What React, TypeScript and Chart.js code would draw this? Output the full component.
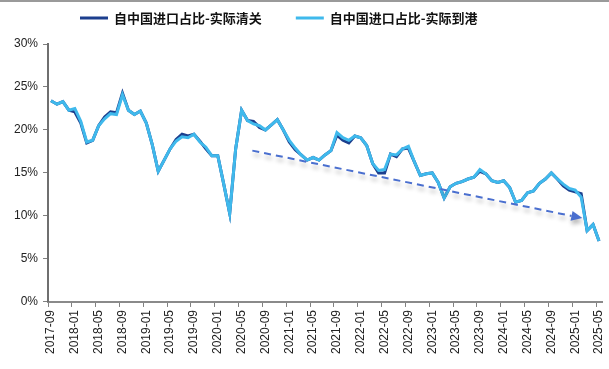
import { useEffect, useRef } from "react";
import { Chart, registerables } from "chart.js";

Chart.register(...registerables);

const categories = [
  "2017-09", "2017-10", "2017-11", "2017-12",
  "2018-01", "2018-02", "2018-03", "2018-04", "2018-05", "2018-06", "2018-07", "2018-08", "2018-09", "2018-10", "2018-11", "2018-12",
  "2019-01", "2019-02", "2019-03", "2019-04", "2019-05", "2019-06", "2019-07", "2019-08", "2019-09", "2019-10", "2019-11", "2019-12",
  "2020-01", "2020-02", "2020-03", "2020-04", "2020-05", "2020-06", "2020-07", "2020-08", "2020-09", "2020-10", "2020-11", "2020-12",
  "2021-01", "2021-02", "2021-03", "2021-04", "2021-05", "2021-06", "2021-07", "2021-08", "2021-09", "2021-10", "2021-11", "2021-12",
  "2022-01", "2022-02", "2022-03", "2022-04", "2022-05", "2022-06", "2022-07", "2022-08", "2022-09", "2022-10", "2022-11", "2022-12",
  "2023-01", "2023-02", "2023-03", "2023-04", "2023-05", "2023-06", "2023-07", "2023-08", "2023-09", "2023-10", "2023-11", "2023-12",
  "2024-01", "2024-02", "2024-03", "2024-04", "2024-05", "2024-06", "2024-07", "2024-08", "2024-09", "2024-10", "2024-11", "2024-12",
  "2025-01", "2025-02", "2025-03", "2025-04", "2025-05",
];

// 自中国进口占比-实际清关 (dark blue)
const clearanceShare = [
  23.4, 23.0, 23.3, 22.3, 22.1, 20.8, 18.5, 18.8, 20.5, 21.5, 22.1, 22.0, 24.3, 22.3, 21.8, 22.2,
  20.8, 18.3, 15.2, 16.5, 17.8, 18.9, 19.5, 19.3, 19.5, 18.7, 17.8, 17.0,
  17.0, 13.7, 10.3, 17.8, 22.3, 21.1, 21.0, 20.3, 20.0, 20.6, 21.2, 20.0,
  18.6, 17.7, 17.1, 16.5, 16.8, 16.5, 17.1, 17.6, 19.4, 18.8, 18.5, 19.3,
  19.1, 18.2, 16.1, 15.0, 15.0, 17.2, 16.9, 17.8, 17.9, 16.3, 14.7, 14.9,
  15.0, 13.9, 12.1, 13.4, 13.8, 14.0, 14.3, 14.5, 15.2, 14.9, 14.1, 13.9,
  14.1, 13.3, 11.6, 11.8, 12.7, 12.9, 13.8, 14.3, 15.0, 14.3, 13.5, 13.0,
  12.8, 12.6, 8.3, 9.0, 7.1,
];

// 自中国进口占比-实际到港 (light blue)
const arrivalShare = [
  23.4, 23.0, 23.3, 22.3, 22.5, 21.0, 18.6, 18.8, 20.5, 21.3, 21.9, 21.8, 24.1, 22.3, 21.8, 22.2,
  20.8, 18.3, 15.2, 16.5, 17.8, 18.7, 19.2, 19.1, 19.5, 18.6, 18.0, 17.0,
  17.0, 13.7, 10.3, 17.8, 22.3, 21.1, 20.7, 20.5, 20.0, 20.6, 21.2, 20.0,
  18.8, 17.9, 17.1, 16.5, 16.8, 16.5, 17.1, 17.6, 19.7, 19.1, 18.8, 19.3,
  19.1, 18.2, 16.1, 15.3, 15.4, 17.2, 17.1, 17.8, 18.1, 16.3, 14.7, 14.9,
  15.0, 13.9, 12.1, 13.4, 13.8, 14.0, 14.3, 14.5, 15.4, 14.9, 14.1, 13.9,
  14.1, 13.3, 11.6, 11.8, 12.7, 12.9, 13.8, 14.3, 15.0, 14.3, 13.7, 13.2,
  13.0, 12.2, 8.3, 9.0, 7.1,
];

const seriesLabels = ["自中国进口占比-实际清关", "自中国进口占比-实际到港"];
const seriesColors = ["#1c3f8e", "#3fb9ec"];

const yTickValues = [0, 5, 10, 15, 20, 25, 30];

// trend arrow, in data space: category index (fractional) and percent value
const trendStartIndex = 33.8;
const trendStartValue = 17.6;
const trendEndIndex = 89.2;
const trendEndValue = 9.75;

const topBandPlugin = {
  id: "topBand",
  beforeDraw(chart: any) {
    const ctx = chart.ctx;
    ctx.save();
    ctx.fillStyle = "#ffffff";
    ctx.fillRect(0, 0, chart.width, chart.height);
    ctx.fillStyle = "#9a9a9a";
    ctx.fillRect(0, 0, chart.width, 2);
    ctx.restore();
  },
};

const legendPlugin = {
  id: "customLegend",
  afterDraw(chart: any) {
    const ctx = chart.ctx;
    ctx.save();
    ctx.font = 'bold 13px "Noto Sans CJK SC"';
    ctx.textBaseline = "middle";
    ctx.textAlign = "left";
    const boxW = 28;
    const gap = 6;
    const itemGap = 34;
    let x = 80;
    const y = 18;
    chart.data.datasets.forEach((ds: any) => {
      ctx.fillStyle = ds.borderColor;
      ctx.fillRect(x, y - 1.5, boxW, 3);
      ctx.fillStyle = "#111111";
      ctx.fillText(ds.label, x + boxW + gap, y);
      x += boxW + gap + ctx.measureText(ds.label).width + itemGap;
    });
    ctx.restore();
  },
};

const arrowPlugin = {
  id: "trendArrow",
  afterDatasetsDraw(chart: any) {
    const xs = chart.scales.x;
    const ys = chart.scales.y;
    const x1 = xs.getPixelForValue(trendStartIndex);
    const y1 = ys.getPixelForValue(trendStartValue);
    const x2 = xs.getPixelForValue(trendEndIndex);
    const y2 = ys.getPixelForValue(trendEndValue);
    const ang = Math.atan2(y2 - y1, x2 - x1);
    const headLen = 11;
    const headHalf = 5;
    const bx = x2 - headLen * Math.cos(ang);
    const by = y2 - headLen * Math.sin(ang);
    const ctx = chart.ctx;
    ctx.save();
    ctx.shadowColor = "rgba(0,0,0,0.28)";
    ctx.shadowBlur = 4;
    ctx.shadowOffsetX = 1;
    ctx.shadowOffsetY = 4;
    ctx.strokeStyle = "#4a6fcf";
    ctx.lineWidth = 2;
    ctx.setLineDash([7, 5]);
    ctx.beginPath();
    ctx.moveTo(x1, y1);
    ctx.lineTo(bx, by);
    ctx.stroke();
    ctx.setLineDash([]);
    ctx.fillStyle = "#4a6fcf";
    ctx.beginPath();
    ctx.moveTo(x2, y2);
    ctx.lineTo(bx + headHalf * Math.sin(ang), by - headHalf * Math.cos(ang));
    ctx.lineTo(bx - headHalf * Math.sin(ang), by + headHalf * Math.cos(ang));
    ctx.closePath();
    ctx.fill();
    ctx.restore();
  },
};

export default function App() {
  const ref = useRef<HTMLCanvasElement | null>(null);
  useEffect(() => {
    if (!ref.current) return;
    const chart = new Chart(ref.current, {
      type: "line",
      data: {
        labels: categories,
        datasets: [
          {
            label: seriesLabels[0],
            data: clearanceShare,
            borderColor: seriesColors[0],
            backgroundColor: seriesColors[0],
            borderWidth: 3,
            pointRadius: 0,
            tension: 0,
            order: 1,
          },
          {
            label: seriesLabels[1],
            data: arrivalShare,
            borderColor: seriesColors[1],
            backgroundColor: seriesColors[1],
            borderWidth: 3,
            pointRadius: 0,
            tension: 0,
            order: 0,
          },
        ],
      },
      options: {
        animation: false,
        responsive: false,
        maintainAspectRatio: false,
        layout: { padding: { top: 44, left: 9, right: 7, bottom: 12 } },
        plugins: {
          legend: { display: false },
          tooltip: { enabled: false },
        },
        scales: {
          x: {
            type: "category",
            offset: true,
            afterFit: (scale: any) => {
              scale.paddingRight = 0;
              scale.paddingLeft = 0;
            },
            grid: {
              offset: true,
              drawOnChartArea: false,
              drawTicks: true,
              tickLength: 5,
              color: (c: any) => (c.index % 4 === 0 ? "#808080" : "rgba(0,0,0,0)"),
              lineWidth: 1,
            },
            border: { display: true, color: "#8a8a8a", width: 2 },
            ticks: {
              autoSkip: false,
              minRotation: 90,
              maxRotation: 90,
              padding: 3,
              color: "#222222",
              font: { family: '"Liberation Sans", Arial, sans-serif', size: 12 },
              callback: (_v: any, i: number) => (i % 4 === 0 ? categories[i] : ""),
            },
          },
          y: {
            min: 0,
            max: 30,
            afterBuildTicks: (axis: any) => {
              axis.ticks = yTickValues.map((v) => ({ value: v }));
            },
            grid: {
              drawOnChartArea: false,
              drawTicks: true,
              tickLength: 5,
              color: "#808080",
              lineWidth: 1,
            },
            border: { display: true, color: "#6f6f6f", width: 2 },
            ticks: {
              padding: 5,
              color: "#222222",
              font: { family: '"Liberation Sans", Arial, sans-serif', size: 12 },
              callback: (v: any) => v + "%",
            },
          },
        },
      },
      plugins: [topBandPlugin, arrowPlugin, legendPlugin],
    });
    return () => chart.destroy();
  }, []);
  return (
    <div style={{ position: "fixed", left: 0, top: 0, width: 609, height: 369, background: "#fff" }}>
      <canvas ref={ref} width={609} height={369} style={{ width: 609, height: 369 }} />
    </div>
  );
}
